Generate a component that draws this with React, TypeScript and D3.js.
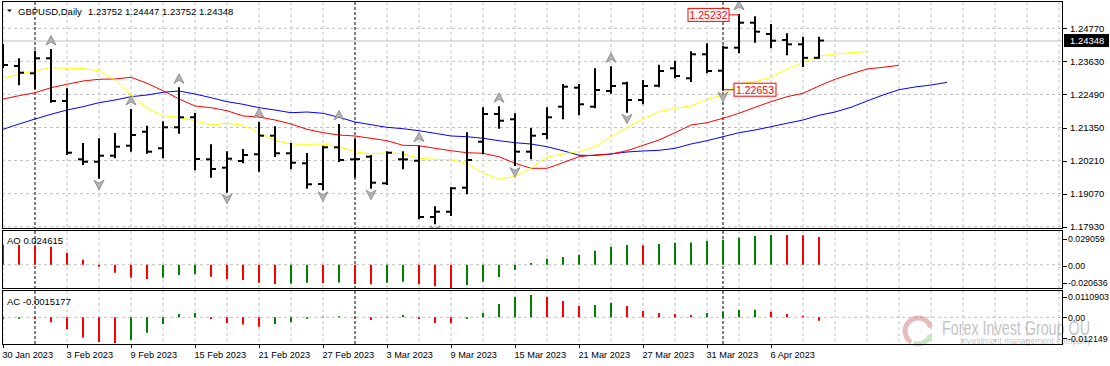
import React from "react";
import * as d3 from "d3";

// GBPUSD daily bars, 30 Jan 2023 .. 11 Apr 2023
const openP = [
  1.2385, 1.2347, 1.23219, 1.23736, 1.22264, 1.20254, 1.20171, 1.20378, 1.20723, 1.21205,
  1.20633, 1.21357, 1.21702, 1.20254, 1.19964, 1.20195, 1.20426, 1.21067, 1.20461, 1.20116,
  1.19402, 1.20667, 1.20254, 1.20343, 1.19426, 1.20254, 1.20205, 1.18264, 1.18447, 1.19275,
  1.2086, 1.21815, 1.21633, 1.20516, 1.21126, 1.22067, 1.22722, 1.22067, 1.22608, 1.22874,
  1.22298, 1.22791, 1.23391, 1.23046, 1.23874, 1.23308, 1.24101, 1.24963, 1.24574, 1.24367,
  1.24218, 1.23752,
];
const highP = [
  1.24194, 1.23701, 1.23963, 1.24022, 1.22667, 1.20781, 1.20943, 1.21126, 1.21953, 1.21378,
  1.21529, 1.22701, 1.21815, 1.20736, 1.20495, 1.20574, 1.21516, 1.21357, 1.20781, 1.20436,
  1.20688, 1.21436, 1.20919, 1.20367, 1.20495, 1.20495, 1.20688, 1.18599, 1.1926, 1.2115,
  1.22012, 1.22046, 1.21805, 1.21298, 1.22012, 1.22815, 1.22815, 1.23357, 1.23425, 1.22895,
  1.22953, 1.23481, 1.23619, 1.23943, 1.24218, 1.24136, 1.25232, 1.25149, 1.24884, 1.24563,
  1.24446, 1.24447,
];
const lowP = [
  1.23436, 1.22839, 1.22701, 1.2224, 1.20436, 1.20092, 1.19619, 1.20323, 1.2055, 1.20481,
  1.20323, 1.21171, 1.19909, 1.19654, 1.19137, 1.2015, 1.19861, 1.20367, 1.19943, 1.19275,
  1.19219, 1.20195, 1.19654, 1.19275, 1.19402, 1.19943, 1.1822, 1.18047, 1.18333, 1.19081,
  1.20461, 1.21343, 1.20057, 1.20288, 1.20978, 1.21667, 1.21805, 1.22046, 1.2255, 1.21895,
  1.22184, 1.2277, 1.23081, 1.22953, 1.23253, 1.22653, 1.23943, 1.24308, 1.24115, 1.23874,
  1.2347, 1.23752,
];
const closeP = [
  1.23505, 1.23239, 1.23736, 1.22264, 1.20481, 1.20171, 1.20378, 1.20688, 1.21091, 1.20516,
  1.21357, 1.21702, 1.20264, 1.19919, 1.20274, 1.20402, 1.21067, 1.20461, 1.20136, 1.19392,
  1.20667, 1.2023, 1.2026, 1.19447, 1.20481, 1.2025, 1.18264, 1.18447, 1.19254, 1.2023,
  1.21815, 1.21584, 1.20516, 1.21067, 1.21702, 1.22757, 1.2215, 1.22643, 1.22781, 1.22298,
  1.22781, 1.23298, 1.23126, 1.23874, 1.23298, 1.24101, 1.24963, 1.24653, 1.24343, 1.24218,
  1.23752, 1.24348,
];

// Alligator (already shifted forward: jaw 8, teeth 5, lips 3)
const jaw = [
  1.21288, 1.21471, 1.21643, 1.21805, 1.21953, 1.22067, 1.22205, 1.22298, 1.22412, 1.2247,
  1.22564, 1.22608, 1.22505, 1.22377, 1.2224, 1.2215, 1.22033, 1.21953, 1.2186, 1.21884,
  1.2184, 1.21702, 1.2154, 1.21446, 1.21357, 1.21309, 1.2124, 1.2115, 1.21057, 1.21033,
  1.20978, 1.20895, 1.20826, 1.20781, 1.20688, 1.2055, 1.20392, 1.20385, 1.20436, 1.20505,
  1.2054, 1.20564, 1.20633, 1.20781, 1.20895, 1.21033, 1.21171, 1.21264, 1.21378, 1.21495,
  1.21609, 1.21771, 1.21884, 1.22046, 1.22263, 1.2247, 1.22653, 1.22746, 1.22815, 1.22906,
];
const teeth = [
  1.22333, 1.22446, 1.2255, 1.22722, 1.22839, 1.22953, 1.23012, 1.23022, 1.23081, 1.22874,
  1.22619, 1.22333, 1.22091, 1.22033, 1.21929, 1.21747, 1.21712, 1.21609, 1.21471, 1.21288,
  1.21171, 1.21091, 1.21057, 1.20978, 1.20895, 1.20736, 1.20723, 1.20633, 1.2055, 1.20481,
  1.20461, 1.20343, 1.20116, 1.19943, 1.19943, 1.20137, 1.20343, 1.20402, 1.20436, 1.2055,
  1.20736, 1.20919, 1.21171, 1.21436, 1.21516, 1.21667, 1.2184, 1.22046, 1.2224, 1.22412,
  1.22529, 1.22781, 1.23012, 1.23195, 1.23367, 1.23425, 1.23494,
];
const lips = [
  1.23046, 1.23195, 1.23298, 1.23412, 1.23391, 1.23384, 1.23308, 1.22988, 1.2247, 1.22012,
  1.21757, 1.21702, 1.21584, 1.21436, 1.21495, 1.21426, 1.21171, 1.20909, 1.20781, 1.20771,
  1.20781, 1.20688, 1.20516, 1.20436, 1.20481, 1.20436, 1.20288, 1.20254, 1.20243, 1.20116,
  1.19781, 1.19564, 1.19671, 1.19943, 1.20333, 1.20436, 1.20516, 1.20688, 1.21033, 1.21343,
  1.21643, 1.21895, 1.22012, 1.22091, 1.22322, 1.2247, 1.2285, 1.22929, 1.23081, 1.23367,
  1.23591, 1.23815, 1.23884, 1.23929, 1.23963,
];

const ao = [
  0.01775, 0.01748, 0.01722, 0.01597, 0.01065, 0.00444, -0.00177, -0.0071, -0.01154, -0.01269,
  -0.01154, -0.00914, -0.00825, -0.01065, -0.01269, -0.01358, -0.01597, -0.01713, -0.01695, -0.01597,
  -0.01615, -0.0158, -0.01713, -0.0173, -0.01597, -0.01509, -0.0172, -0.019, -0.0206, -0.01801,
  -0.01509, -0.01092, -0.0047, 0.00151, 0.00532, 0.00683, 0.00887, 0.01242, 0.01597, 0.01748,
  0.0173, 0.01837, 0.01952, 0.0197, 0.0213, 0.02218, 0.02396, 0.02547, 0.02636, 0.0263,
  0.0262, 0.024615,
];
const ac = [
  -0.0009, -0.0006, -0.0008, -0.0022, -0.0051, -0.0089, -0.0108, -0.0113, -0.01, -0.0068,
  -0.0029, 0.0014, 0.0019, -0.0007, -0.0025, -0.0032, -0.0041, -0.0029, -0.0021, -0.0006,
  0.0002, 0.0005, -0.0005, -0.0012, -0.0002, 0.001, -0.0007, -0.0025, -0.0026, -0.0007,
  0.002, 0.0058, 0.009, 0.0098, 0.009, 0.0071, 0.005, 0.0054, 0.0064, 0.005,
  0.0028, 0.0019, 0.0014, 0.001, 0.0019, 0.0023, 0.0032, 0.0033, 0.0024, 0.0014,
  0.0007, -0.0015177,
];

const upFractals = [3, 8, 11, 16, 21, 26, 31, 38, 46];
const downFractals = [6, 14, 20, 23, 27, 32, 39, 45];

const dateLabels = [
  "30 Jan 2023", "3 Feb 2023", "9 Feb 2023", "15 Feb 2023", "21 Feb 2023", "27 Feb 2023",
  "3 Mar 2023", "9 Mar 2023", "15 Mar 2023", "21 Mar 2023", "27 Mar 2023", "31 Mar 2023", "6 Apr 2023",
];
const monthStarts = [2, 22, 45];
const priceTicks = [1.2477, 1.2363, 1.2249, 1.2135, 1.2021, 1.1907, 1.1793];
const aoRange = [-0.020636, 0.029059];
const aoLabels = ["0.029059", "0.00", "-0.020636"];
const acRange = [-0.012149, 0.0110903];
const acLabels = ["0.0110903", "0.00", "-0.012149"];

const FONT = "'Liberation Sans', Arial, sans-serif";
const L = 2;
const R = 1063;
const main = { top: 2, bottom: 228 };
const aoP = { top: 231, bottom: 288 };
const acP = { top: 291, bottom: 345 };

export default function App() {
  const n = closeP.length;
  const x = d3.scaleLinear().domain([0, 66]).range([3, 1059]);
  const y = d3.scaleLinear().domain([1.1793, 1.2477]).range([226.7, 28.3]);
  const yAo = d3.scaleLinear().domain(aoRange).range([288, 232]);
  const yAc = d3.scaleLinear().domain(acRange).range([345, 292]);

  const lineGen = (s: d3.ScaleLinear<number, number>) =>
    d3
      .line<number>()
      .x((_, i) => x(i))
      .y((d) => s(d));

  const gridX = d3.range(0, 67, 2).filter((i) => !monthStarts.includes(i));
  const last = closeP[n - 1];
  // highest high / lowest low of the last swing get a price marker
  const iHi = d3.maxIndex(highP);
  const iLo = d3.minIndex(lowP.slice(41)) + 41;

  const panelGrid = (top: number, bottom: number) => (
    <g>
      {gridX.map((i) => (
        <line key={i} x1={x(i)} x2={x(i)} y1={top} y2={bottom} stroke="#c0c0c0" strokeDasharray="3,3" />
      ))}
      {monthStarts.map((i) => (
        <line key={"m" + i} x1={x(i)} x2={x(i)} y1={top} y2={bottom} stroke="#000" strokeDasharray="3,2" />
      ))}
    </g>
  );

  const histo = (vals: number[], s: d3.ScaleLinear<number, number>) => (
    <g>
      {vals.map((v, i) => {
        const up = i === 0 ? false : v > vals[i - 1];
        return (
          <line
            key={i}
            x1={x(i)}
            x2={x(i)}
            y1={s(0)}
            y2={s(v)}
            stroke={up ? "#008000" : "#ff0000"}
            strokeWidth={2}
          />
        );
      })}
    </g>
  );

  // gray wingdings-like arrowheads used for fractals
  const upArrow = "M0,-5 L5,4.5 L0,1.5 L-5,4.5 Z";
  const downArrow = "M0,5 L5,-4.5 L0,-1.5 L-5,-4.5 Z";

  return (
    <div style={{ position: "fixed", left: 0, top: 0, width: 1110, height: 366, background: "#fff" }}>
      <svg width={1110} height={366} style={{ display: "block" }} fontFamily={FONT}>
        <defs>
          <clipPath id="cm">
            <rect x={L} y={main.top} width={R - L} height={main.bottom - main.top} />
          </clipPath>
          <clipPath id="ca">
            <rect x={L} y={aoP.top} width={R - L} height={aoP.bottom - aoP.top} />
          </clipPath>
          <clipPath id="cc">
            <rect x={L} y={acP.top} width={R - L} height={acP.bottom - acP.top} />
          </clipPath>
        </defs>
        <rect width={1110} height={366} fill="#fff" />

        {/* main panel */}
        <g clipPath="url(#cm)">
          {priceTicks.map((p) => (
            <line key={p} x1={L} x2={R} y1={y(p)} y2={y(p)} stroke="#c0c0c0" strokeDasharray="3,3" />
          ))}
          {panelGrid(main.top, main.bottom)}
          <line x1={L} x2={R} y1={Math.round(y(last))} y2={Math.round(y(last))} stroke="#c0c0c0" />
          <path d={lineGen(y)(jaw) || ""} fill="none" stroke="#0000ff" strokeWidth={1} />
          <path d={lineGen(y)(teeth) || ""} fill="none" stroke="#ff0000" strokeWidth={1} />
          <path d={lineGen(y)(lips) || ""} fill="none" stroke="#ffff00" strokeWidth={1} />
          <g stroke="#000" strokeWidth={2}>
            {closeP.map((c, i) => (
              <g key={i}>
                <line x1={x(i)} x2={x(i)} y1={y(highP[i]) - 1} y2={y(lowP[i]) + 1} />
                <line x1={x(i) - 5} x2={x(i)} y1={y(openP[i])} y2={y(openP[i])} />
                <line x1={x(i)} x2={x(i) + 5} y1={y(c)} y2={y(c)} />
              </g>
            ))}
          </g>
          {upFractals.map((i) => (
            <path
              key={"u" + i}
              d={upArrow}
              transform={`translate(${x(i)},${y(highP[i]) - 9.5})`}
              fill="#b4b4b4"
              stroke="#808080"
              strokeWidth={0.8}
            />
          ))}
          {downFractals.map((i) => (
            <path
              key={"d" + i}
              d={downArrow}
              transform={`translate(${x(i)},${y(lowP[i]) + 7})`}
              fill="#b4b4b4"
              stroke="#808080"
              strokeWidth={0.8}
            />
          ))}
          {/* high / low markers */}
          <g fontSize={10.5} fill="#ff0000">
            <line x1={x(iHi) - 10} x2={x(iHi)} y1={y(highP[iHi])} y2={y(highP[iHi])} stroke="#ff0000" />
            <rect x={x(iHi) - 51} y={y(highP[iHi]) - 6.5} width={41} height={13} fill="#fff" stroke="#ff0000" />
            <text x={x(iHi) - 30.5} y={y(highP[iHi]) + 4} textAnchor="middle">
              {highP[iHi].toFixed(5)}
            </text>
            <line x1={x(iLo)} x2={x(iLo) + 11} y1={y(lowP[iLo])} y2={y(lowP[iLo])} stroke="#ff0000" />
            <rect x={x(iLo) + 11} y={y(lowP[iLo]) - 6.5} width={42} height={13} fill="#fff" stroke="#ff0000" />
            <text x={x(iLo) + 32} y={y(lowP[iLo]) + 4} textAnchor="middle">
              {lowP[iLo].toFixed(5)}
            </text>
          </g>
        </g>
        <path d="M7,9.5 L12,9.5 L9.5,12 Z" fill="#000" />
        <text x={18} y={15} fontSize={9.5} fill="#000">
          GBPUSD,Daily
        </text>
        <text x={88} y={15} fontSize={9.5} fill="#000">
          {[openP[n - 1], highP[n - 1], lowP[n - 1], closeP[n - 1]].map((v) => v.toFixed(5)).join(" ")}
        </text>

        {/* AO panel */}
        <g clipPath="url(#ca)">
          <line x1={L} x2={R} y1={yAo(0)} y2={yAo(0)} stroke="#c0c0c0" strokeDasharray="3,3" />
          {panelGrid(aoP.top, aoP.bottom)}
          {histo(ao, yAo)}
        </g>
        <text x={7} y={243.5} fontSize={9.5}>
          AO {ao[n - 1].toFixed(6)}
        </text>

        {/* AC panel */}
        <g clipPath="url(#cc)">
          <line x1={L} x2={R} y1={yAc(0)} y2={yAc(0)} stroke="#c0c0c0" strokeDasharray="3,3" />
          {panelGrid(acP.top, acP.bottom)}
          {histo(ac, yAc)}
        </g>
        <text x={7} y={304.5} fontSize={9.5}>
          AC {ac[n - 1].toFixed(7)}
        </text>

        {/* watermark (under the axis text) */}
        <g opacity={0.5}>
          <path
            d={d3.arc()({ innerRadius: 10.5, outerRadius: 15.5, startAngle: -2.6, endAngle: 1.3 }) || ""}
            transform="translate(918,331)"
            fill="#d47a7a"
          />
          <path
            d={d3.arc()({ innerRadius: 10.5, outerRadius: 15.5, startAngle: 1.9, endAngle: 3.5 }) || ""}
            transform="translate(918,331)"
            fill="#8fcf8f"
          />
          <text x={942} y={335} fontSize={20} fill="#8a8a8a" textLength={148} lengthAdjust="spacingAndGlyphs">
            Forex Invest Group OU
          </text>
          <text x={960} y={343.5} fontSize={9} fill="#8a8a8a" textLength={131} lengthAdjust="spacingAndGlyphs">
            Investment management company
          </text>
        </g>

        {/* frames */}
        <g fill="none" stroke="#000">
          <rect x={2.5} y={1.5} width={1060} height={227} />
          <rect x={2.5} y={230.5} width={1060} height={58} />
          <rect x={2.5} y={290.5} width={1060} height={54} />
        </g>

        {/* price axis */}
        <g fontSize={9.5}>
          {priceTicks.map((p) => (
            <g key={p}>
              <line x1={R} x2={R + 4} y1={Math.round(y(p)) + 0.5} y2={Math.round(y(p)) + 0.5} stroke="#000" />
              <text x={1070} y={y(p) + 3.5}>
                {p.toFixed(5)}
              </text>
            </g>
          ))}
          <rect x={1064} y={y(last) - 6.5} width={45} height={13} fill="#000" />
          <text x={1070} y={y(last) + 3.5} fill="#fff">
            {last.toFixed(5)}
          </text>
        </g>
        <g fontSize={8.8}>
          {[239, yAo(0) + 1, 282.7].map((ty, k) => (
            <g key={"a" + k}>
              <line x1={R} x2={R + 4} y1={Math.round(ty) + 0.5} y2={Math.round(ty) + 0.5} stroke="#000" />
              <text x={1068} y={ty + 3.3}>
                {aoLabels[k]}
              </text>
            </g>
          ))}
          {[296.7, yAc(0), 338.3].map((ty, k) => (
            <g key={"c" + k}>
              <line x1={R} x2={R + 4} y1={Math.round(ty) + 0.5} y2={Math.round(ty) + 0.5} stroke="#000" />
              <text x={1068} y={ty + 3.3}>
                {acLabels[k]}
              </text>
            </g>
          ))}
        </g>

        {/* time axis */}
        <g fontSize={9.2}>
          {dateLabels.map((d, k) => (
            <g key={d}>
              <line x1={x(k * 4) + 0.5} x2={x(k * 4) + 0.5} y1={345} y2={348} stroke="#000" />
              <text x={x(k * 4) - 0.5} y={358}>
                {d}
              </text>
            </g>
          ))}
        </g>
      </svg>
    </div>
  );
}
